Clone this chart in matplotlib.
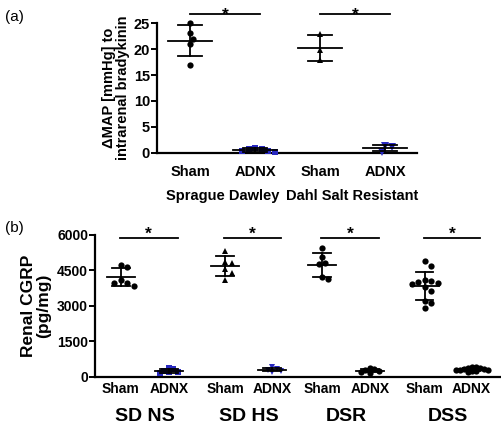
import numpy as np
import matplotlib
matplotlib.use("Agg")
import matplotlib.pyplot as plt

plt.rcParams['font.family'] = ['Liberation Sans', 'DejaVu Sans']

# ---------------- data ----------------
# Panel (a): change in MAP to intrarenal bradykinin (mmHg)
a_groups = ["Sprague Dawley", "Dahl Salt Resistant"]
a_ticks = ["Sham", "ADNX", "Sham", "ADNX"]
a_sd_sham = [25.0, 23.0, 22.0, 21.0, 17.0]
a_sd_adnx = [0.8, 0.4, 0.1, 0.3, 0.8, 0.9]
a_dsr_sham = [22.9, 19.9, 17.8]
a_dsr_adnx = [1.3, 0.25, 1.2]
a_yticks = [0, 5, 10, 15, 20, 25]

# Panel (b): renal CGRP (pg/mg)
b_groups = ["SD NS", "SD HS", "DSR", "DSS"]
b_ticks = ["Sham", "ADNX"] * 4
b_sdns_sham = [4730, 4660, 3980, 3850, 3980, 4100]
b_sdns_adnx = [140, 180, 220, 260, 310, 380]
b_sdhs_sham = [5335, 4870, 4800, 4548, 4404, 4094]
b_sdhs_adnx = [200, 250, 300, 330, 390]
b_dsr_sham = [5437, 5056, 4800, 4760, 4124, 4209]
b_dsr_adnx = [150, 200, 240, 280, 320, 380]
b_dss_sham = [4900, 4688, 4065, 4094, 3912, 3811, 3955, 3997, 3642, 3206, 3134, 2896]
b_dss_adnx = [200, 230, 250, 270, 290, 300, 320, 340, 360, 380, 400, 420]
b_yticks = [0, 1500, 3000, 4500, 6000]

BLUE = '#2828c0'
BLACK = '#000000'
LW = 1.3

fig = plt.figure(figsize=(5.02, 4.24), dpi=100)
W, H = 502, 424

def px_axes(l, t, r, b):
    return fig.add_axes([l / W, 1 - b / H, (r - l) / W, (b - t) / H])

def swarm_offsets(ax, x0, vals, dia_px):
    """Deterministic beeswarm offsets (in data x units)."""
    disp = ax.transData.transform([(x0, v) for v in vals])
    ys = disp[:, 1]
    order = np.argsort(-np.asarray(vals))
    placed = []
    offs = np.zeros(len(vals))
    for i in order:
        k = 0
        while True:
            cands = [0.0] if k == 0 else [k * dia_px * 0.5, -k * dia_px * 0.5]
            ok = None
            for c in cands:
                if all((c - px) ** 2 + (ys[i] - py) ** 2 >= (dia_px * 0.95) ** 2 for px, py in placed):
                    ok = c
                    break
            if ok is not None:
                offs[i] = ok
                placed.append((ok, ys[i]))
                break
            k += 1
    x0d = ax.transData.transform((x0, 0))[0]
    inv = ax.transData.inverted()
    return np.array([inv.transform((x0d + o, 0))[0] for o in offs])

def draw_group(ax, x0, vals, marker, color, ms, dia_px, mean_hw, cap_hw):
    vals = np.asarray(vals, float)
    xs = swarm_offsets(ax, x0, vals, dia_px)
    ax.plot(xs, vals, linestyle='none', marker=marker, color=color,
            markersize=ms, markeredgewidth=0, clip_on=False, zorder=3)
    m = vals.mean()
    s = vals.std(ddof=1)
    ax.plot([x0 - mean_hw, x0 + mean_hw], [m, m], color=BLACK, lw=LW, zorder=4, clip_on=False)
    ax.plot([x0, x0], [m - s, m + s], color=BLACK, lw=LW, zorder=4, clip_on=False)
    for yy in (m - s, m + s):
        ax.plot([x0 - cap_hw, x0 + cap_hw], [yy, yy], color=BLACK, lw=LW, zorder=4, clip_on=False)

def style_axes(ax, fs, xpad):
    for sp in ('top', 'right'):
        ax.spines[sp].set_visible(False)
    for sp in ('left', 'bottom'):
        ax.spines[sp].set_linewidth(1.6)
    ax.tick_params(axis='y', length=4, width=1.4, labelsize=fs, pad=1)
    ax.tick_params(axis='x', length=0, pad=xpad)
    for lab in ax.get_yticklabels():
        lab.set_fontweight('bold')

# ---------------- panel (a) ----------------
axa = px_axes(157, 23, 417, 153)
a_pos = [0, 1, 2, 3]
axa.set_xlim(-0.508, 3.49)
axa.set_ylim(0, 25)
axa.set_yticks(a_yticks)
axa.set_xticks(a_pos)
axa.set_xticklabels(a_ticks, fontsize=10.5, fontweight='bold')
style_axes(axa, 10.5, 9)
axa.set_ylabel("ΔMAP [mmHg] to\nintrarenal bradykinin", fontsize=10.5,
               fontweight='bold', labelpad=3, linespacing=1.0)

draw_group(axa, a_pos[0], a_sd_sham, 'o', BLACK, 4.5, 6.0, 0.34, 0.18)
draw_group(axa, a_pos[1], a_sd_adnx, 's', BLUE, 4.8, 6.5, 0.34, 0.18)
draw_group(axa, a_pos[2], a_dsr_sham, '^', BLACK, 4.5, 6.0, 0.34, 0.18)
draw_group(axa, a_pos[3], a_dsr_adnx, 'v', BLUE, 5.2, 6.5, 0.34, 0.18)

for x1, x2 in ((a_pos[0], a_pos[1]), (a_pos[2], a_pos[3])):
    axa.plot([x1, x2 + 0.08], [26.7, 26.7], color=BLACK, lw=LW, clip_on=False)
    axa.text((x1 + x2 + 0.08) / 2, 25.6, "*", ha='center', va='baseline',
             fontsize=12.5, fontweight='bold', clip_on=False)

for i, g in enumerate(a_groups):
    axa.text((a_pos[2 * i] + a_pos[2 * i + 1]) / 2, -0.28, g,
             transform=axa.get_xaxis_transform(), ha='center', va='top',
             fontsize=10.5, fontweight='bold')

fig.text(5 / W, 1 - 17 / H, "(a)", fontsize=11, va='center', ha='left')

# ---------------- panel (b) ----------------
axb = px_axes(95, 235, 500, 376.7)
b_pos = [0, 1, 2.17, 3.15, 4.19, 5.19, 6.33, 7.31]
axb.set_xlim(-0.54, 7.9)
axb.set_ylim(0, 6000)
axb.set_yticks(b_yticks)
axb.set_xticks(b_pos)
axb.set_xticklabels(b_ticks, fontsize=10, fontweight='bold')
style_axes(axb, 10, 4)
axb.set_ylabel("Renal CGRP\n(pg/mg)", fontsize=12.5, fontweight='bold',
               labelpad=4, linespacing=1.0)

mh, ch = 0.29, 0.18
draw_group(axb, b_pos[0], b_sdns_sham, 'o', BLACK, 4.5, 6.5, mh, ch)
draw_group(axb, b_pos[1], b_sdns_adnx, 's', BLUE, 4.5, 4.5, mh, ch)
draw_group(axb, b_pos[2], b_sdhs_sham, '^', BLACK, 4.5, 6.5, mh, ch)
draw_group(axb, b_pos[3], b_sdhs_adnx, 'v', BLUE, 4.8, 4.5, mh, ch)
draw_group(axb, b_pos[4], b_dsr_sham, 'o', BLACK, 4.5, 6.5, mh, ch)
draw_group(axb, b_pos[5], b_dsr_adnx, 'o', BLACK, 4.5, 4.5, mh, ch)
draw_group(axb, b_pos[6], b_dss_sham, 'o', BLACK, 4.5, 6.5, mh, ch)
draw_group(axb, b_pos[7], b_dss_adnx, 'o', BLACK, 4.5, 4.0, mh, ch)

for i in range(4):
    x1, x2 = b_pos[2 * i], b_pos[2 * i + 1]
    axb.plot([x1 - 0.02, x2 + 0.18], [5873, 5873], color=BLACK, lw=LW, clip_on=False)
    axb.text((x1 + x2 + 0.16) / 2, 5830, "*", ha='center', va='baseline',
             fontsize=12.5, fontweight='bold', clip_on=False)
    axb.text((x1 + x2) / 2, -0.22, b_groups[i], transform=axb.get_xaxis_transform(),
             ha='center', va='top', fontsize=14, fontweight='bold')

fig.text(5 / W, 1 - 228 / H, "(b)", fontsize=11, va='center', ha='left')

fig.savefig("out.png", dpi=100)
